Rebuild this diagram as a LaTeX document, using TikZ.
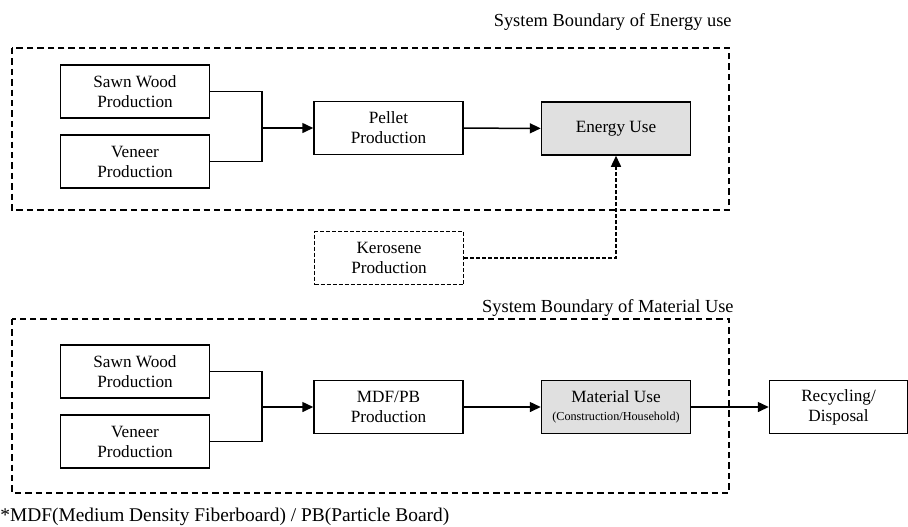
\documentclass[tikz,border=0pt]{standalone}
\usepackage{fontspec}
\setmainfont{Liberation Serif}
\usepackage{tikz}
\usetikzlibrary{arrows.meta}
\definecolor{usegray}{HTML}{E0E0E0}
\tikzset{
  procbox/.style={draw, line width=.75pt, minimum width=74.5pt, minimum height=26.5pt,
    align=center, inner sep=1pt, font=\fontsize{8.6}{10}\selectfont},
  usebox/.style={procbox, fill=usegray},
  boundary/.style={line width=.75pt, dash pattern=on 3.2pt off 2pt},
  fine dash/.style={line width=.75pt, dash pattern=on 2pt off 1pt},
  flow/.style={line width=.75pt, -{Triangle[length=5.5pt,width=5pt]}},
  boundlabel/.style={anchor=east, font=\fontsize{9.2}{11}\selectfont, inner sep=0pt}
}
% Sawn wood and veneer feeding one process
\newcommand{\woodInputs}[3]{
    \node[procbox] (sawn#1) at (135,#2) {Sawn Wood\\Production};
    \node[procbox] (veneer#1) at (135,#2+70) {Veneer\\Production};
    \coordinate (join#1) at (262,#3);
    \draw[line width=.75pt] (sawn#1.east) -| (join#1);
    \draw[line width=.75pt] (veneer#1.east) -| (join#1);
}
\begin{document}
\begin{tikzpicture}[x=0.5pt, y=-0.5pt]
  \useasboundingbox (0,0) rectangle (908,526);

  % Energy use
  \draw[boundary] (12,48) rectangle (729,210);
  \node[boundlabel] (energylabel) at (732,22) {System Boundary of Energy use};
  \woodInputs{E}{91.5}{128}
  \node[procbox] (pellet) at (388.5,128) {Pellet\\Production};
  \node[usebox] (energy) at (616,128.5) {Energy Use};
  \node[procbox, fine dash] (kerosene) at (389,258) {Kerosene\\Production};
  \draw[flow] (joinE) -- (pellet.west);
  \draw[flow] (pellet) -- (energy);
  \draw[flow, fine dash] (kerosene.east) -| (energy.south);

  % Material use
  \draw[boundary] (12,319) rectangle (729,493);
  \node[boundlabel] (materiallabel) at (734,308) {System Boundary of Material Use};
  \woodInputs{M}{371.5}{407}
  \node[procbox] (mdfpb) at (388.5,407) {MDF/PB\\Production};
  \node[usebox] (material) at (616,407) {Material Use\\[-1pt]{\fontsize{6.1}{7}\selectfont (Construction/Household)}};
  \node[procbox, minimum width=69pt] (recycling) at (838.5,407) {Recycling/\\Disposal};
  \draw[flow] (joinM) -- (mdfpb.west);
  \draw[flow] (mdfpb) -- (material);
  \draw[flow] (material) -- (recycling);

  % Footnote
  \node[anchor=west, inner sep=0pt, font=\fontsize{9.7}{11}\selectfont] (note) at (0,517)
    {*MDF(Medium Density Fiberboard) / PB(Particle Board)};
\end{tikzpicture}
\end{document}
